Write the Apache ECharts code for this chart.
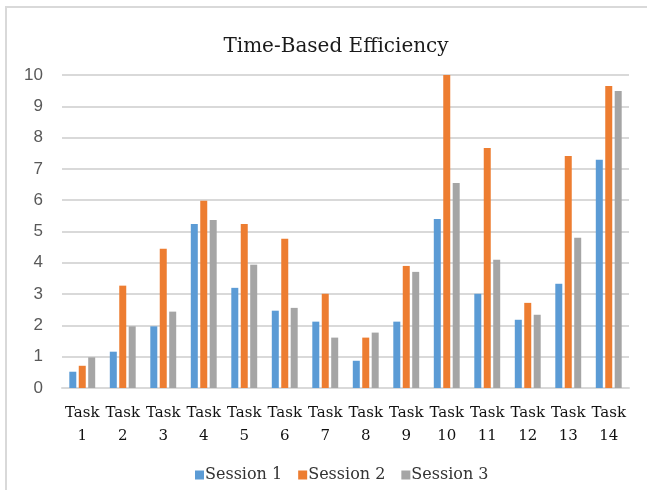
<!DOCTYPE html>
<html>
<head>
<meta charset="utf-8">
<script src="https://cdn.jsdelivr.net/npm/echarts@6/dist/echarts.min.js"></script>
<style>
  html, body { margin: 0; padding: 0; background: #fff; }
  #chart { width: 647px; height: 490px; }
</style>
</head>
<body>
<div id="chart"></div>
<script>
const tasks = ["Task\n1", "Task\n2", "Task\n3", "Task\n4", "Task\n5", "Task\n6", "Task\n7",
  "Task\n8", "Task\n9", "Task\n10", "Task\n11", "Task\n12", "Task\n13", "Task\n14"];
const session1 = [0.52, 1.16, 1.97, 5.24, 3.2, 2.47, 2.12, 0.87, 2.12, 5.4, 3.01, 2.18, 3.33, 7.29];
const session2 = [0.71, 3.27, 4.45, 5.98, 5.24, 4.77, 3.01, 1.61, 3.9, 10.0, 7.67, 2.72, 7.41, 9.65];
const session3 = [0.98, 1.97, 2.44, 5.37, 3.94, 2.56, 1.61, 1.77, 3.71, 6.55, 4.1, 2.34, 4.8, 9.49];

const chart = echarts.init(document.getElementById("chart"));

const serif = "'DejaVu Serif', serif";

const bar = (name, data, color) => ({
  name,
  type: "bar",
  data,
  barWidth: 7,
  barGap: "35%",
  itemStyle: { color },
});

chart.setOption({
  animation: false,
  title: {
    text: "Time-Based Efficiency",
    left: 331,
    top: 32,
    textAlign: "center",
    textStyle: { fontFamily: serif, fontSize: 20, fontWeight: "normal", color: "#1a1a1a" },
  },
  legend: {
    left: 190,
    top: 462,
    itemWidth: 9,
    itemHeight: 9,
    itemGap: 16,
    icon: "rect",
    textStyle: { fontFamily: serif, fontSize: 16, color: "#333", padding: [0, 0, 0, -4] },
    data: ["Session 1", "Session 2", "Session 3"],
  },
  grid: { left: 62, right: 18, top: 75, bottom: 102 },
  xAxis: {
    type: "category",
    data: tasks,
    axisTick: { show: false },
    axisLine: { lineStyle: { color: "#d9d9d9", width: 2 } },
    axisLabel: {
      interval: 0,
      margin: 14,
      fontFamily: serif,
      fontSize: 15,
      lineHeight: 23,
      color: "#111",
    },
  },
  yAxis: {
    type: "value",
    min: 0,
    max: 10,
    interval: 1,
    axisLine: { show: false },
    axisTick: { show: false },
    splitLine: { lineStyle: { color: "#d9d9d9", width: 2 } },
    axisLabel: {
      margin: 19,
      fontFamily: "'Liberation Sans', sans-serif",
      fontSize: 17,
      color: "#595959",
    },
  },
  graphic: [
    {
      type: "polyline",
      shape: { points: [[6, 490], [6, 7], [647, 7]] },
      style: { stroke: "#d9d9d9", lineWidth: 2, fill: null },
    },
  ],
  series: [
    bar("Session 1", session1, "#5b9bd5"),
    bar("Session 2", session2, "#ed7d31"),
    bar("Session 3", session3, "#a5a5a5"),
  ],
});
</script>
</body>
</html>
